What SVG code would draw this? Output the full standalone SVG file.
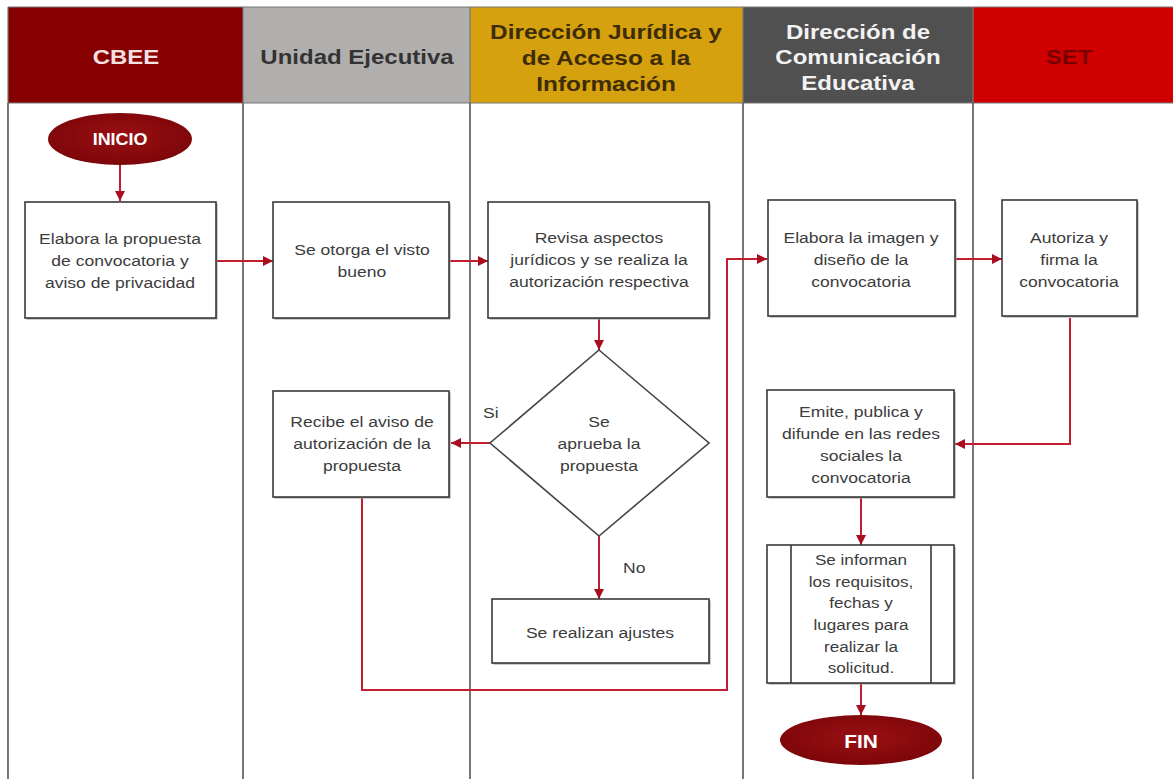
<svg xmlns="http://www.w3.org/2000/svg" width="1173" height="779" viewBox="0 0 1173 779">
<defs>
<style>
.lane{stroke:#555;stroke-width:1.6;fill:none}
.hd{font-family:"Liberation Sans",Arial,sans-serif;font-weight:bold;font-size:20px;text-anchor:middle}
.box{fill:#fff;stroke:#3a3a3a;stroke-width:1.6}
.sh{fill:#9a9a9a}
.t{font-family:"Liberation Sans",Arial,sans-serif;font-size:15px;fill:#3c3c3c;text-anchor:middle}
.lbl{font-family:"Liberation Sans",Arial,sans-serif;font-size:15px;fill:#3c3c3c}
.tt{font-family:"Liberation Sans",Arial,sans-serif;font-weight:bold;fill:#fff;text-anchor:middle}
.ca{fill:none;stroke:#C21E30;stroke-width:2;marker-end:url(#ah)}
</style>
<marker id="ah" viewBox="0 0 10 10" refX="10" refY="5" markerWidth="10" markerHeight="10" markerUnits="userSpaceOnUse" orient="auto">
<path d="M0,0 L10,5 L0,10 z" fill="#A80E1E"/>
</marker>
<radialGradient id="tg" cx="50%" cy="45%" r="60%">
<stop offset="0" stop-color="#9a1014"/>
<stop offset="1" stop-color="#7a0508"/>
</radialGradient>
</defs>
<rect x="0" y="0" width="1173" height="779" fill="#fff"/>

<g id="header">
<rect x="8" y="7" width="235" height="96" fill="#860000"/>
<rect x="243" y="7" width="227" height="96" fill="#B1AEAE"/>
<rect x="470" y="7" width="273" height="96" fill="#D5A10F"/>
<rect x="743" y="7" width="230" height="96" fill="#505050"/>
<rect x="973" y="7" width="200" height="96" fill="#D00000"/>
<path d="M8,7 H1173 M8,103 H1173 M8,7 V103 M243,7 V103 M470,7 V103 M743,7 V103 M973,7 V103" stroke="#777" stroke-width="1.2" fill="none"/>
<g transform="translate(126 0) scale(1.2 1)"><text class="hd" x="0" y="64" fill="#F4E0E0">CBEE</text></g>
<g transform="translate(357 0) scale(1.2 1)"><text class="hd" x="0" y="64" fill="#333">Unidad Ejecutiva</text></g>
<g transform="translate(606 0) scale(1.22 1)">
<text class="hd" x="0" y="39" fill="#3d2c04">Dirección Jurídica y</text>
<text class="hd" x="0" y="65" fill="#3d2c04">de Acceso a la</text>
<text class="hd" x="0" y="91" fill="#3d2c04">Información</text>
</g>
<g transform="translate(858 0) scale(1.2 1)">
<text class="hd" x="0" y="39" fill="#f2f2f2">Dirección de</text>
<text class="hd" x="0" y="64" fill="#f2f2f2">Comunicación</text>
<text class="hd" x="0" y="90" fill="#f2f2f2">Educativa</text>
</g>
<g transform="translate(1069 0) scale(1.2 1)"><text class="hd" x="0" y="64" fill="#780000">SET</text></g>
</g>

<g id="lanes">
<path class="lane" d="M8,103 V779 M243,103 V779 M470,103 V779 M743,103 V779 M973,103 V779"/>
</g>

<g id="connectors">
<path class="ca" d="M120,165 V201"/>
<path class="ca" d="M216,261 H273"/>
<path class="ca" d="M450,261 H488"/>
<path class="ca" d="M599,318 V350"/>
<path class="ca" d="M490,443 H451"/>
<path class="ca" d="M599,536 V599"/>
<path class="ca" d="M362,498 V690 H727 V259 H767"/>
<path class="ca" d="M955,259 H1002"/>
<path class="ca" d="M1070,318 V444 H955"/>
<path class="ca" d="M861,498 V545"/>
<path class="ca" d="M861,684 V715"/>
</g>

<g id="n-inicio">
<ellipse cx="120" cy="139" rx="72" ry="26" fill="url(#tg)"/>
<g transform="translate(120 0) scale(1.12 1)"><text class="tt" x="0" y="145" font-size="16">INICIO</text></g>
</g>

<g id="n-elabora-propuesta">
<rect class="sh" x="26.5" y="203.5" width="191" height="116"/>
<rect class="box" x="25" y="202" width="191" height="116"/>
<g transform="translate(120 0) scale(1.17 1)">
<text class="t" x="0" y="244">Elabora la propuesta</text>
<text class="t" x="0" y="266">de convocatoria y</text>
<text class="t" x="0" y="288">aviso de privacidad</text>
</g>
</g>

<g id="n-visto-bueno">
<rect class="sh" x="274.5" y="203.5" width="176" height="116"/>
<rect class="box" x="273" y="202" width="176" height="116"/>
<g transform="translate(362 0) scale(1.17 1)">
<text class="t" x="0" y="255">Se otorga el visto</text>
<text class="t" x="0" y="277">bueno</text>
</g>
</g>

<g id="n-revisa">
<rect class="sh" x="489.5" y="203.5" width="221" height="116"/>
<rect class="box" x="488" y="202" width="221" height="116"/>
<g transform="translate(599 0) scale(1.17 1)">
<text class="t" x="0" y="243">Revisa aspectos</text>
<text class="t" x="0" y="265">jurídicos y se realiza la</text>
<text class="t" x="0" y="287">autorización respectiva</text>
</g>
</g>

<g id="n-decision">
<polygon points="599,350 709,443 599,536 490,443" fill="#fff" stroke="#444" stroke-width="1.6"/>
<g transform="translate(599 0) scale(1.17 1)">
<text class="t" x="0" y="427">Se</text>
<text class="t" x="0" y="449">aprueba la</text>
<text class="t" x="0" y="471">propuesta</text>
</g>
<g transform="translate(483 0) scale(1.17 1)"><text class="lbl" x="0" y="418">Si</text></g>
<g transform="translate(623 0) scale(1.17 1)"><text class="lbl" x="0" y="573">No</text></g>
</g>

<g id="n-recibe-aviso">
<rect class="sh" x="274.5" y="392.5" width="176" height="106"/>
<rect class="box" x="273" y="391" width="176" height="106"/>
<g transform="translate(362 0) scale(1.17 1)">
<text class="t" x="0" y="427">Recibe el aviso de</text>
<text class="t" x="0" y="449">autorización de la</text>
<text class="t" x="0" y="471">propuesta</text>
</g>
</g>

<g id="n-ajustes">
<rect class="sh" x="493.5" y="600.5" width="217" height="64"/>
<rect class="box" x="492" y="599" width="217" height="64"/>
<g transform="translate(600 0) scale(1.17 1)"><text class="t" x="0" y="638">Se realizan ajustes</text></g>
</g>

<g id="n-imagen">
<rect class="sh" x="769.5" y="201.5" width="187" height="116"/>
<rect class="box" x="768" y="200" width="187" height="116"/>
<g transform="translate(861 0) scale(1.17 1)">
<text class="t" x="0" y="243">Elabora la imagen y</text>
<text class="t" x="0" y="265">diseño de la</text>
<text class="t" x="0" y="287">convocatoria</text>
</g>
</g>

<g id="n-autoriza">
<rect class="sh" x="1003.5" y="201.5" width="135" height="116"/>
<rect class="box" x="1002" y="200" width="135" height="116"/>
<g transform="translate(1069 0) scale(1.17 1)">
<text class="t" x="0" y="243">Autoriza y</text>
<text class="t" x="0" y="265">firma la</text>
<text class="t" x="0" y="287">convocatoria</text>
</g>
</g>

<g id="n-emite">
<rect class="sh" x="768.5" y="391.5" width="187" height="107"/>
<rect class="box" x="767" y="390" width="187" height="107"/>
<g transform="translate(861 0) scale(1.17 1)">
<text class="t" x="0" y="417">Emite, publica y</text>
<text class="t" x="0" y="439">difunde en las redes</text>
<text class="t" x="0" y="461">sociales la</text>
<text class="t" x="0" y="483">convocatoria</text>
</g>
</g>

<g id="n-informan">
<rect class="sh" x="768.5" y="546.5" width="187" height="138"/>
<rect class="box" x="767" y="545" width="187" height="138"/>
<path d="M791,545 V683 M931,545 V683" stroke="#3a3a3a" stroke-width="1.6"/>
<g transform="translate(861 0) scale(1.14 1)">
<text class="t" x="0" y="565">Se informan</text>
<text class="t" x="0" y="587">los requisitos,</text>
<text class="t" x="0" y="608">fechas y</text>
<text class="t" x="0" y="630">lugares para</text>
<text class="t" x="0" y="652">realizar la</text>
<text class="t" x="0" y="673">solicitud.</text>
</g>
</g>

<g id="n-fin">
<ellipse cx="861" cy="740" rx="81" ry="25" fill="url(#tg)"/>
<g transform="translate(861 0) scale(1.1 1)"><text class="tt" x="0" y="748" font-size="19">FIN</text></g>
</g>
</svg>
